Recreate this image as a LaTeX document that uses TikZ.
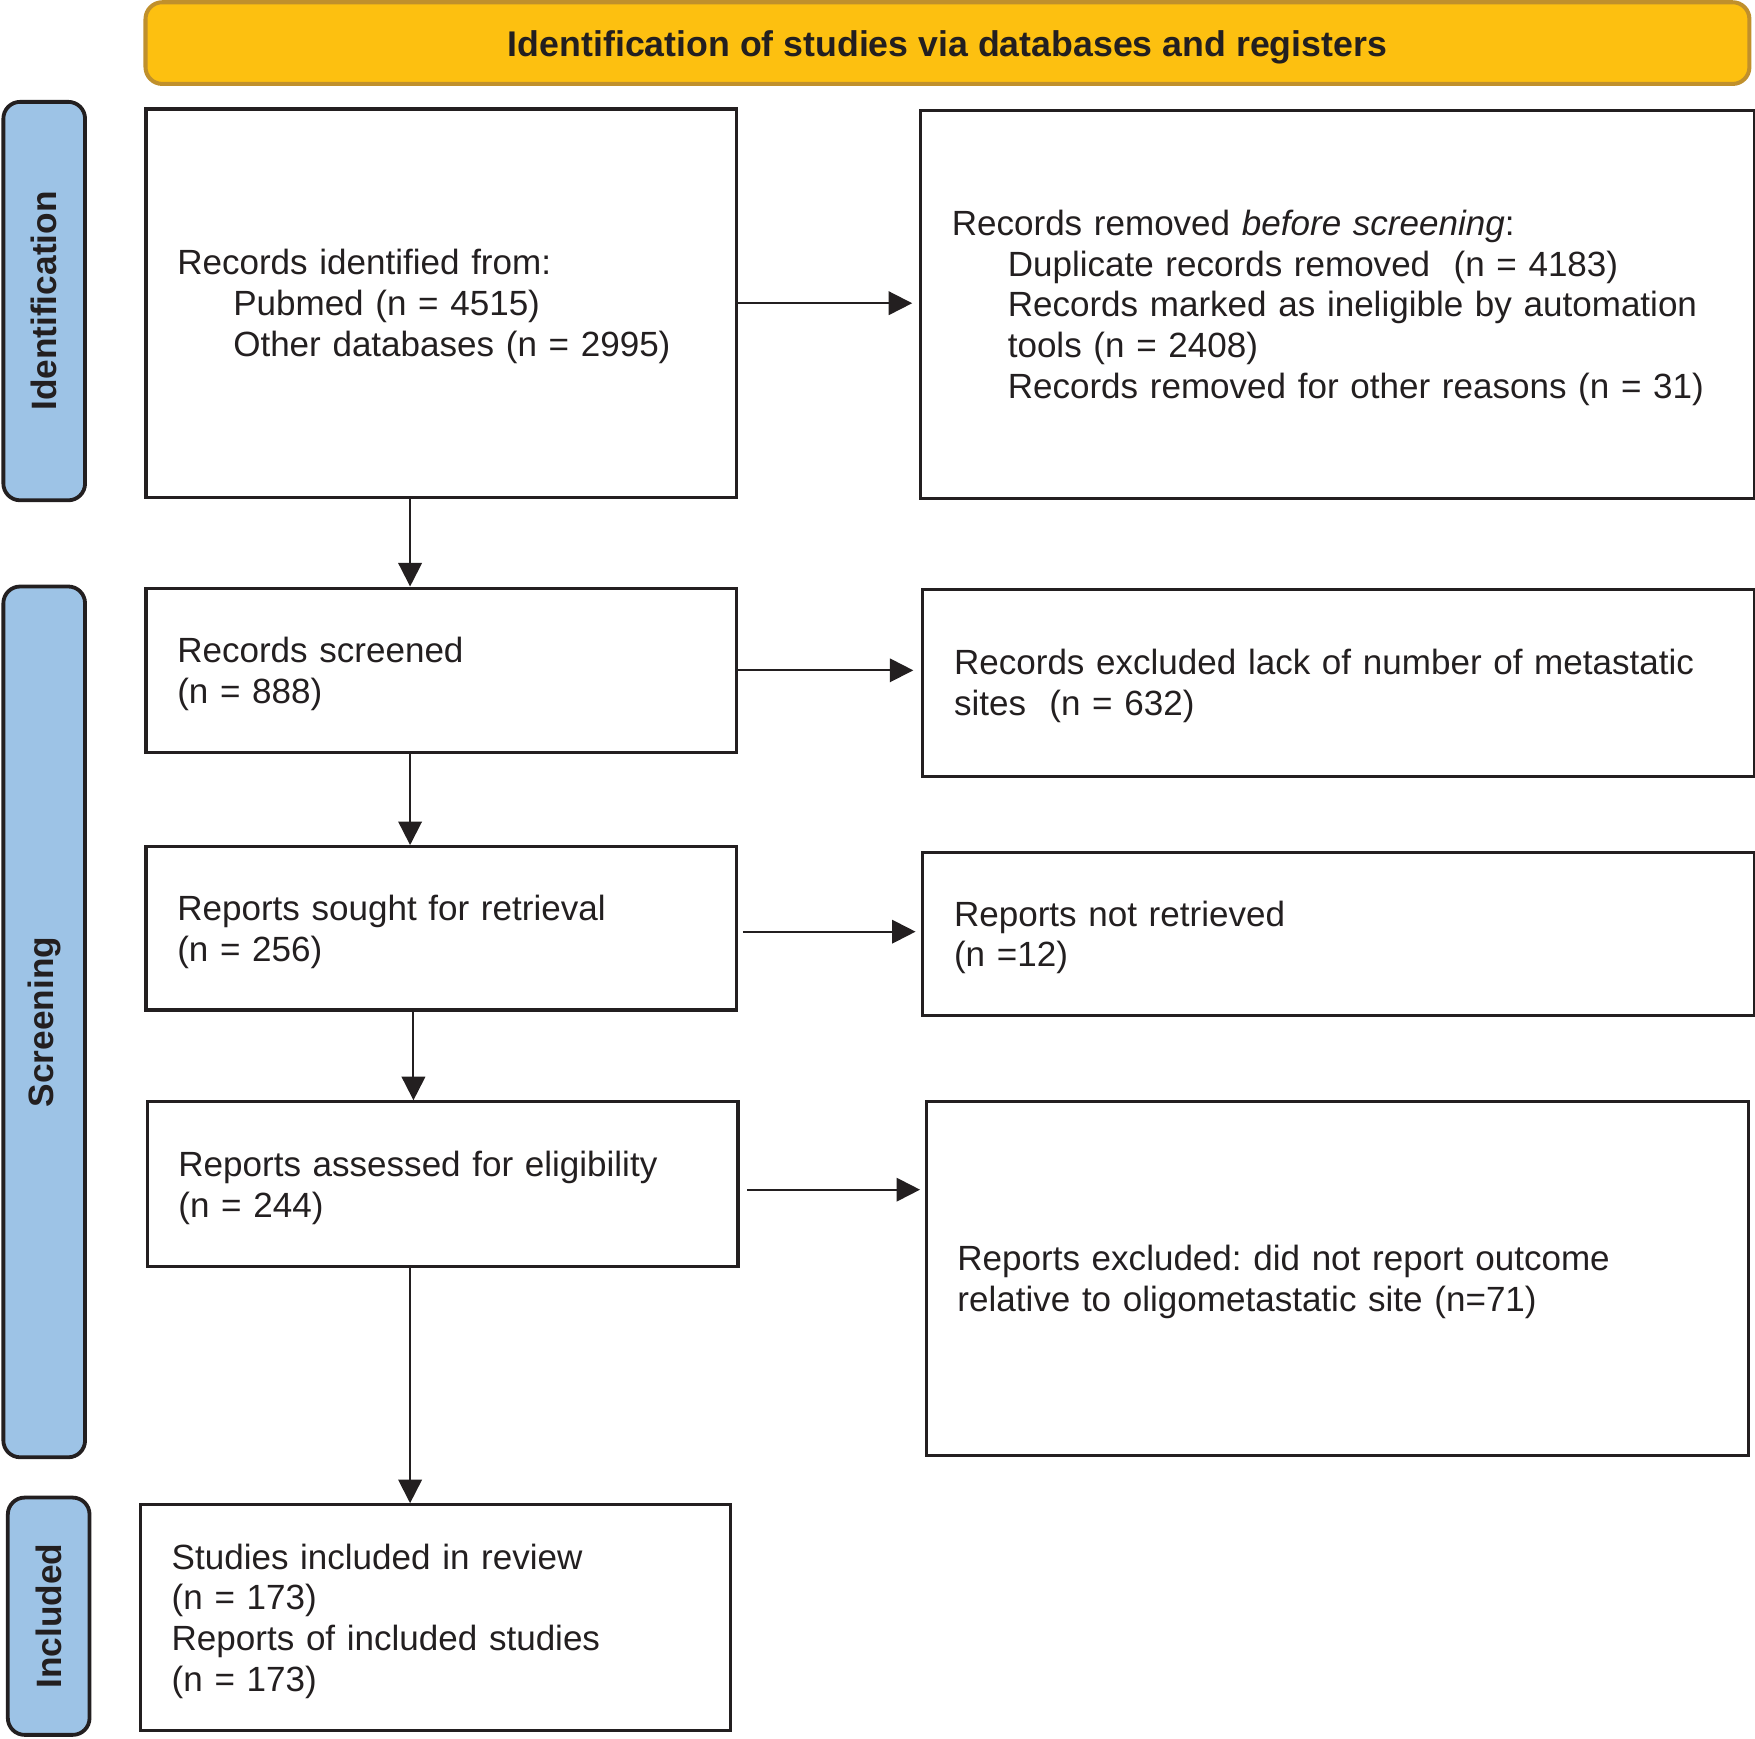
\documentclass[tikz,border=0pt]{standalone}
\usepackage{fontspec}
\setmainfont{Liberation Sans}
\usetikzlibrary{arrows.meta,calc}
\definecolor{ink}{HTML}{231F20}
\definecolor{banner}{HTML}{FDC010}
\definecolor{bannerline}{HTML}{C0902C}
\definecolor{phaseblue}{HTML}{9DC3E6}
\newcommand{\tstrut}{\rule{0pt}{29pt}}
\begin{document}
\frenchspacing
\begin{tikzpicture}[x=1pt,y=-1pt,
  every node/.style={font=\fontsize{31.3}{36.5}\selectfont, text=ink},
  box/.style={draw=ink, line width=2.8pt, rectangle, anchor=north west, inner xsep=28pt, inner ysep=0pt, align=left},
  arr/.style={draw=ink, line width=1.8pt, -{Triangle[length=21pt,width=21pt]}},
  phase/.style={draw=ink, fill=phaseblue, line width=3.4pt, rounded corners=15pt, rotate=90, font=\fontsize{31.5}{36.5}\selectfont\bfseries, inner sep=0pt}
]
\useasboundingbox (0,0) rectangle (1568,1553);

\node[draw=bannerline, fill=banner, line width=3.6pt, rounded corners=15pt, minimum width=1433pt, minimum height=73pt, inner sep=0pt, text depth=0pt, font=\fontsize{31.9}{36.5}\selectfont\bfseries] (title) at (846.5,38.5) {Identification of studies via databases and registers};

\node[phase, minimum width=356pt, minimum height=73pt] (P1) at (39.5,269) {Identification};
\node[phase, minimum width=778pt, minimum height=73pt] (P2) at (39.5,913) {Screening};
\node[phase, minimum width=212pt, minimum height=73pt] (P3) at (43.5,1444) {Included};

\node[box, minimum width=528pt, minimum height=347pt, text width=472pt] (B1) at (129,96) {\tstrut Records identified from:\\
\hspace*{50pt}Pubmed (n = 4515)\\
\hspace*{50pt}Other databases (n = 2995)};

\node[box, minimum width=745pt, minimum height=347pt, text width=689pt] (B2) at (821,97) {\tstrut Records removed \textit{before screening}:\\
\hspace*{50pt}Duplicate records removed\ \ (n = 4183)\\
\hspace*{50pt}Records marked as ineligible by automation\\
\hspace*{50pt}tools (n = 2408)\\
\hspace*{50pt}Records removed for other reasons (n = 31)};

\node[box, minimum width=528pt, minimum height=147pt, text width=472pt] (B3) at (129,524) {\tstrut Records screened\\(n = 888)};

\node[box, minimum width=743pt, minimum height=167pt, text width=687pt] (B4) at (823,525) {\tstrut Records excluded lack of number of metastatic\\sites\ \ (n = 632)};

\node[box, minimum width=528pt, minimum height=146pt, text width=472pt] (B5) at (129,755) {\tstrut Reports sought for retrieval\\(n = 256)};

\node[box, minimum width=743pt, minimum height=146pt, text width=687pt] (B6) at (823,760) {\tstrut Reports not retrieved\\(n =12)};

\node[box, minimum width=528pt, minimum height=147pt, text width=472pt] (B7) at (130,983) {\tstrut Reports assessed for eligibility\\(n = 244)};

\node[box, minimum width=735pt, minimum height=316pt, text width=679pt] (B8) at (826,983) {\tstrut Reports excluded: did not report outcome\\relative to oligometastatic site (n=71)};

\node[box, minimum width=527pt, minimum height=202pt, text width=471pt] (B9) at (124,1343) {\tstrut Studies included in review\\(n = 173)\\Reports of included studies\\(n = 173)};

% horizontal arrows
\draw[arr, shorten >=6pt] (B1.east) -- (B1.east -| B2.west);
\draw[arr, shorten >=7pt] (B3.east) -- (B3.east -| B4.west);
\draw[arr, shorten >=5pt] ([xshift=4pt,yshift=-3pt]B5.east) -- ([yshift=-3pt]B5.east -| B6.west);
\draw[arr, shorten >=4pt] ([xshift=7pt,yshift=-5pt]B7.east) -- ([yshift=-5pt]B7.east -| B8.west);

% vertical arrows
\draw[arr] ([xshift=-28pt]B1.south) -- ([xshift=-28pt]B1.south |- B3.north);
\draw[arr] ([xshift=-28pt]B3.south) -- ([xshift=-28pt]B3.south |- B5.north);
\draw[arr] ([xshift=-25pt]B5.south) -- ([xshift=-25pt]B5.south |- B7.north);
\draw[arr] ([xshift=-29pt]B7.south) -- ([xshift=-29pt]B7.south |- B9.north);
\end{tikzpicture}
\end{document}
